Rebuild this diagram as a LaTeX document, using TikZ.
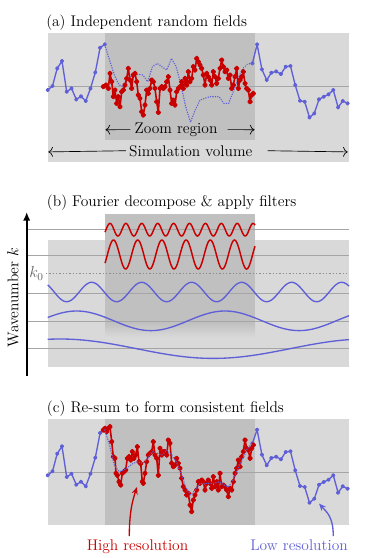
\documentclass[tikz,border=0pt]{standalone}
\usetikzlibrary{arrows.meta,calc}
\definecolor{lowres}{RGB}{95,95,215}
\definecolor{hires}{RGB}{200,0,0}
\definecolor{volgray}{RGB}{217,217,217}
\definecolor{zoomgray}{RGB}{192,192,192}
\definecolor{rulegray}{RGB}{165,165,165}

% outer part of the low resolution field (same in (a) and (c));
% #1 = value at the right edge of the zoom region
\newcommand\lowouter[1]{%
  \draw[lowline] plot coordinates {(47.7,3.3) (52.5,-0.7) (57.2,-18.3) (62.0,-25.7)
    (66.7,5) (71.5,1.7) (76.3,12.7) (81.0,9.7) (85.8,14.3) (90.5,1.7) (95.3,-14.3)
    (100.1,-39) (104.8,-42.3)};
  \draw[lowline] plot coordinates {(252.4,#1) (257.1,-42.3) (261.9,-17.3) (266.7,-6.7)
    (271.4,-14) (276.2,-15.3) (280.9,-12.7) (285.7,-20) (290.5,-20.7) (295.2,-1.7)
    (300.0,14) (304.7,15) (309.5,30.7) (314.3,26.7) (319.0,12.7) (323.8,10)
    (328.5,7.7) (333.3,3.3) (338.1,20.7) (342.8,14.3) (347.6,16.7)};
}

\begin{document}
\begin{tikzpicture}[
  x=0.75pt, y=-0.75pt,
  lbl/.style={font=\fontsize{11.6}{13.5}\selectfont, inner sep=0pt},
  lowline/.style={lowres, line width=1pt, line join=round, mark=*, mark size=1.1pt},
  hiline/.style={hires, line width=1.2pt, line join=round, mark=*, mark size=1.45pt},
  lowdots/.style={lowres, line width=1.2pt, dash pattern=on 0.01pt off 1.8pt, line cap=round},
  lowwave/.style={lowres, line width=1pt},
  hiwave/.style={hires, line width=1.1pt},
  midrule/.style={rulegray, line width=0.6pt},
  dim/.style={-{Computer Modern Rightarrow[length=3.5pt]}, line width=0.5pt},
  pointer/.style={-{Stealth[length=5.5pt, width=4.5pt]}, line width=1pt},
]

\useasboundingbox (0,0) rectangle (374,558);

% ---- (a) independent fields ----
\node[lbl, anchor=base west] (ttla) at (46,26.7) {(a) Independent random fields};
\fill[volgray] (47.7,33.3) rectangle (349,161.7);
\fill[zoomgray] (105,33.3) rectangle (255,140);
\draw[midrule] (47.7,86.7) -- (349,86.7);

\begin{scope}[shift={(0,86.7)}]
  \lowouter{-23.3}
  \draw[lowdots] plot coordinates {(104.8,-41.7) (109.6,-26.7) (114.3,-11.7) (119.1,-1.7)
    (123.9,0) (128.6,-8.3) (133.4,-12.3) (138.1,-12.3) (142.9,-11.7) (147.7,-5)
    (152.4,-20) (157.2,-23.3) (161.9,-20) (166.7,-16.7) (171.5,-28.3) (176.2,-20)
    (181.0,-1.7) (185.7,20) (190.5,35.6) (195.3,23.3) (200.0,13.3) (204.8,11.7)
    (209.5,10) (214.3,10) (219.1,10) (223.8,16.7) (228.6,16.7) (233.3,5)
    (238.1,-8.3) (242.9,-18.3) (247.6,-22.7) (252.4,-23.3)};
  \draw[hiline] plot coordinates {(103.3,0) (106,-1.7) (108.3,1.7) (110,-13.3)
    (111.7,-5) (113.3,10) (115,3.3) (116.7,16.7) (118.3,10) (120,20) (121.7,5)
    (123.3,3.3) (125,-1.7) (126.7,-8.3) (128.3,-18.3) (130,-6.7) (131.7,1.7)
    (133.3,-11.7) (135,-13.3) (136.7,-5) (138.3,8.3) (140,11.7) (141.7,25)
    (143.3,28.3) (145,18.3) (146.7,3.3) (148.3,6.7) (150,1.7) (151.7,-6.7)
    (153.3,-5) (155,1.7) (156.7,15) (158.3,25.7) (160,1.7) (161.7,0) (163.3,1.7)
    (165,0) (166.7,-5) (168.3,-10) (170,3.3) (171.7,16.7) (173.3,13.3) (175,18.3)
    (176.7,5) (178.3,1.7) (180,0) (181.7,-5) (183.3,1.7) (185,-8.3) (186.7,-1.7)
    (188.3,-15) (190,-5) (191.7,-8.3) (193.3,-20) (195,-16.7) (196.7,-28.3)
    (198.3,-25) (200,-21.7) (201.7,-18.3) (203.3,-11.7) (205,-1.7) (206.7,-13.3)
    (208.3,-10) (210,-6.7) (211.7,-1.7) (213.3,-15) (215,-10) (216.7,-3.3)
    (218.3,-8.3) (220,-18.3) (221.7,-26.7) (223.3,-20) (225,-15) (226.7,-16.7)
    (228.3,-8.3) (230,-11.7) (231.7,1.7) (233.3,-1.7) (235,-10) (236.7,-18.3)
    (238.3,1.7) (240,-6.7) (241.7,-10) (243.3,-15) (245,-3.3) (246.7,1.7)
    (248.3,3.3) (250,15) (251.7,8.3) (253.3,6.7)};
\end{scope}

\node[lbl, anchor=base] (zoomlbl) at (176,133.3) {Zoom region};
\coordinate (zoomL) at (105.5,129.7);
\coordinate (zoomR) at (254.5,129.7);
\draw[dim] ($(zoomlbl.west)+(-4,0)$) -- (zoomL);
\draw[dim] ($(zoomlbl.east)+(10,0)$) -- (zoomR);

\node[lbl, anchor=base] (simlbl) at (190.8,156) {Simulation volume};
\coordinate (simL) at (48.3,151.9);
\coordinate (simR) at (347.7,151.9);
\draw[dim] ($(simlbl.west)+(-3,0)$) -- (simL);
\draw[dim] ($(simlbl.east)+(15,0)$) -- (simR);

% ---- (b) Fourier filters ----
\node[lbl, anchor=base west] (ttlb) at (46.7,206) {(b) Fourier decompose \& apply filters};
\fill[volgray] (47.7,240) rectangle (349,367.3);
\fill[zoomgray] (105,214) rectangle (255,323);
\shade[top color=zoomgray, bottom color=volgray] (105,323) rectangle (255,337);

\foreach \yk in {229.3,255,293.3,321,348.7}{\draw[midrule] (28.3,\yk) -- (349,\yk);}

\node[lbl, text=black!60] (kzero) at (36.5,273.3) {$k_0$};
\draw[black!45, line width=0.5pt, dash pattern=on 1pt off 1.5pt]
      ($(kzero.east)+(2,0)$) -- (349,273.3);

% filtered modes; factors are 360/wavelength
\draw[hiwave] plot[domain=105:255, samples=220] (\x,{229.7-6.3*cos(22.642*(\x-110))});
\draw[hiwave] plot[domain=105:255, samples=200] (\x,{254.5-14.5*cos(14.876*(\x-113.5))});
\draw[lowwave] plot[domain=47.7:349, samples=240] (\x,{292-9.7*cos(7.2*(\x-91.7))});
\draw[lowwave] plot[domain=47.7:349, samples=150] (\x,{320.8-9.8*cos(2.4275*(\x-76.7))});
\draw[lowwave] plot[domain=47.7:349, samples=120] (\x,{348.7-9.7*cos(1.1742*(\x-60))});

\coordinate (kbase) at (26.7,376);
\coordinate (ktop) at (26.7,212);
\draw[-{Latex[length=6.5pt, width=5.5pt]}, line width=1.3pt] (kbase) -- (ktop);
\node[lbl, rotate=90] (klbl) at (13,297.5) {Wavenumber $k$};

% ---- (c) re-summed fields ----
\node[lbl, anchor=base west] (ttlc) at (46.7,412.3) {(c) Re-sum to form consistent fields};
\fill[volgray] (47.7,419.3) rectangle (349,525);
\fill[zoomgray] (105,419.3) rectangle (255,525);
\draw[midrule] (47.7,472) -- (349,472);

\begin{scope}[shift={(0,472)}]
  \lowouter{-28.7}
  \draw[hiline] plot coordinates {(103.3,-42) (105,-43.7) (106.7,-40.3) (108.3,-43.7)
    (110,-45.3) (111.7,-30.3) (113.3,-15.3) (115,-13.7) (116,1.3) (117.3,3.3)
    (119,9.7) (120.7,13) (122.3,1.3) (124,-0.3) (125.7,-2) (127.3,-13.7)
    (129,-15.3) (130.7,-12) (132.3,-20.3) (134,-13.7) (135.7,-17) (137.3,-25.3)
    (139,-10.3) (140.7,-8.3) (142.3,9.7) (143.3,11.3) (145,1.3) (146.7,-10.3)
    (148.3,-17) (150,-18.7) (151.7,-20.3) (153.3,-30.3) (155,-17) (156.7,-13.7)
    (158.3,3.3) (160,-23.7) (161.7,-17) (163.3,-20.3) (165,-20.3) (166.7,-17)
    (168.3,-32) (170,-28.7) (171.7,-8.7) (173.3,-5.3) (175,-7) (176.7,-13.7)
    (178.3,-8.7) (180,-3.7) (181.7,6.3) (183.3,14.7) (185,18) (186.7,23)
    (188.3,21.3) (190,33) (191.7,39.7) (193.3,28) (195,23) (196.7,18) (198.3,9.7)
    (200,11.3) (201.7,8) (203.3,9.7) (205,18) (206.7,11.3) (208.3,8) (210,11.3)
    (211.7,16.3) (213.3,4.7) (215,14.7) (216.7,9.7) (218.3,18) (220,1.3)
    (221.7,14.7) (223.3,13) (225,14.7) (226.7,18) (228.3,24.7) (230,16.3)
    (231.7,18) (233.3,9.7) (235,1.3) (236.7,-3.7) (238.3,-12) (240,-5.3)
    (241.7,-15.3) (243.3,-20.3) (245,-32) (246.7,-23.7) (248.3,-22) (250,-13.7)
    (251.7,-23.7) (253.3,-27)};
  \draw[lowdots] plot coordinates {(104.8,-42) (109.6,-27) (114.3,-7) (119.1,-0.3)
    (123.9,-2) (128.6,-5.3) (133.4,-8.7) (138.1,-10.3) (142.9,-8.7) (147.7,-13.7)
    (152.4,-20.3) (157.2,-18.7) (161.9,-17) (166.7,-22) (171.5,-17) (176.2,-10.3)
    (181.0,1.3) (185.7,14.7) (190.5,23) (195.3,18) (200.0,11.3) (204.8,11.3)
    (209.5,11.3) (214.3,11.3) (219.1,9.7) (223.8,13) (228.6,14.7) (233.3,8)
    (238.1,-3.7) (242.9,-13.7) (247.6,-23.7) (252.4,-28.7)};
\end{scope}

\node[lbl, anchor=base, text=hires] (hilbl) at (137.5,550) {High resolution};
\node[lbl, anchor=base, text=lowres] (lolbl) at (299,550) {Low resolution};
\coordinate (hiTip) at (137,487);
\coordinate (loTip) at (319,503.5);
\draw[pointer, hires] ($(hilbl.north)+(-8.2,-3)$) .. controls +(0,-25) and +(-4,12) .. (hiTip);
\draw[pointer, lowres] ($(lolbl.north)+(34.3,-3)$) .. controls +(0,-20) and +(7,8) .. (loTip);

\end{tikzpicture}
\end{document}
